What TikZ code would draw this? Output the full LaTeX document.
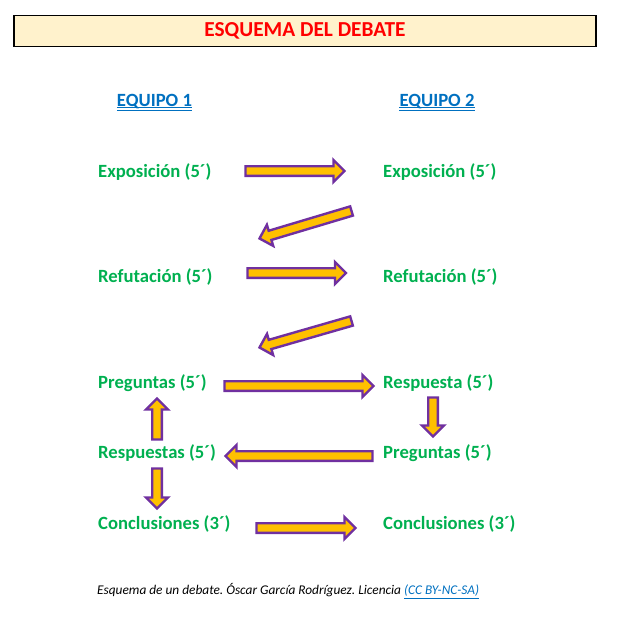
\documentclass[tikz,border=0pt]{standalone}
\usepackage{fontspec}
\setmainfont{Carlito}
\usetikzlibrary{shapes.arrows,calc}
\definecolor{lblgreen}{HTML}{00B050}
\definecolor{eqblue}{HTML}{0070C0}
\definecolor{titlered}{HTML}{FF0000}
\definecolor{arrpurple}{HTML}{7030A0}
\definecolor{arryellow}{HTML}{FFC000}
\definecolor{boxfill}{HTML}{FFF2CC}
\frenchspacing
\tikzset{
  lbl/.style={anchor=west, inner sep=0pt, text=lblgreen, font=\fontsize{18.67}{22}\selectfont\bfseries},
  eqlbl/.style={anchor=base, inner sep=0pt, text=eqblue, font=\fontsize{18.67}{22}\selectfont\bfseries},
  blockarrow/.style={single arrow, draw=arrpurple, fill=arryellow, line width=2.4pt,
    inner xsep=0pt, inner ysep=3.6pt, outer sep=0pt, minimum width=0pt,
    single arrow head extend=6.2pt, single arrow tip angle=90},
  uline/.style={draw=eqblue, line width=0.9pt}
}
\newcommand\blockarr[3]{%
  \path let \p1=($(#3)-(#2)$), \n1={atan2(\y1,\x1)}, \n2={veclen(\x1,\y1)} in
    node[blockarrow, minimum height=\n2, rotate=\n1, anchor=tail] (#1) at (#2) {};}
\begin{document}
\begin{tikzpicture}[x=1pt,y=-1pt]
\useasboundingbox (0,0) rectangle (623,629);
% title
\node[draw=black, fill=boxfill, line width=1.1pt, minimum width=582pt, minimum height=31pt,
  inner sep=0pt, text=titlered, font=\fontsize{21.33}{24}\selectfont\bfseries] (title) at (305,30.8) {ESQUEMA DEL DEBATE};
% team headers
\node[eqlbl] (eq1) at (154.5,106) {EQUIPO 1};
\node[eqlbl] (eq2) at (437,106) {EQUIPO 2};
\foreach \e in {eq1,eq2}{
  \draw[uline] ([yshift=-1.6pt]\e.base west) -- ([yshift=-1.6pt]\e.base east);
  \draw[uline] ([yshift=-4.2pt]\e.base west) -- ([yshift=-4.2pt]\e.base east);
}
% labels
\node[lbl] (a1) at (98,172) {Exposición (5´)};
\node[lbl] (b1) at (383,172) {Exposición (5´)};
\node[lbl] (a2) at (98,277) {Refutación (5´)};
\node[lbl] (b2) at (383,277) {Refutación (5´)};
\node[lbl] (a3) at (98,383) {Preguntas (5´)};
\node[lbl] (b3) at (383,383) {Respuesta (5´)};
\node[lbl] (a4) at (98,453) {Respuestas (5´)};
\node[lbl] (b4) at (383,453) {Preguntas (5´)};
\node[lbl] (a5) at (98,524) {Conclusiones (3´)};
\node[lbl] (b5) at (383,524) {Conclusiones (3´)};
% arrow end points
\coordinate (p1s) at (245.5,171); \coordinate (p1e) at (344.5,171);
\coordinate (d1s) at (351.5,211); \coordinate (d1e) at (259.5,238.5);
\coordinate (p2s) at (247.5,273); \coordinate (p2e) at (346,273);
\coordinate (d2s) at (351.5,321); \coordinate (d2e) at (259.5,347.5);
\coordinate (p3s) at (224.5,386); \coordinate (p3e) at (373.5,386);
\coordinate (v1s) at (433,397.5); \coordinate (v1e) at (433,436.5);
\coordinate (p4s) at (372.5,456); \coordinate (p4e) at (225.5,456);
\coordinate (v2s) at (157,439.5); \coordinate (v2e) at (157,398.5);
\coordinate (v3s) at (157,468.5); \coordinate (v3e) at (157,508.5);
\coordinate (p5s) at (256.5,528); \coordinate (p5e) at (355.5,528);
\blockarr{ar1}{p1s}{p1e}
\blockarr{ar2}{d1s}{d1e}
\blockarr{ar3}{p2s}{p2e}
\blockarr{ar4}{d2s}{d2e}
\blockarr{ar5}{p3s}{p3e}
\blockarr{ar6}{v1s}{v1e}
\blockarr{ar7}{p4s}{p4e}
\blockarr{ar8}{v2s}{v2e}
\blockarr{ar9}{v3s}{v3e}
\blockarr{ar10}{p5s}{p5e}
% footer
\node[anchor=west, inner sep=0pt, font=\fontsize{13.33}{16}\selectfont\itshape] (foot) at (97,591)
  {Esquema de un debate. Óscar García Rodríguez. Licencia {\color{eqblue}\underline{(CC BY-NC-SA)}}};
\end{tikzpicture}
\end{document}
